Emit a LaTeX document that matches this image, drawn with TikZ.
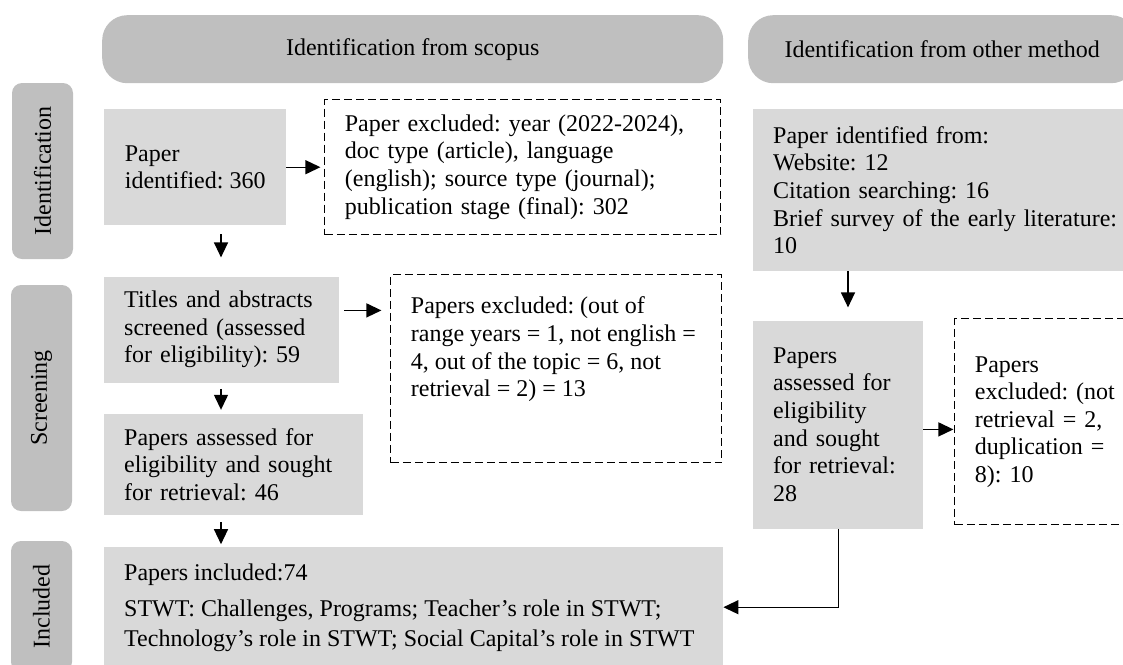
\documentclass[tikz,border=0pt]{standalone}
\usepackage{fontspec}
\setmainfont{Liberation Serif}
\usetikzlibrary{positioning, arrows.meta}
\frenchspacing

\definecolor{headgrey}{HTML}{BFBFBF}
\definecolor{boxgrey}{HTML}{D9D9D9}

\begin{document}
\begin{tikzpicture}[x=1pt, y=-1pt, >={Triangle[length=15pt, width=14pt]},
    every node/.style={font=\fontsize{24}{27.6}\selectfont, inner ysep=0pt},
    header/.style={fill=headgrey, rounded corners=25pt, minimum height=68pt, anchor=north west},
    phase/.style={fill=headgrey, rounded corners=10pt, rotate=90, minimum height=61pt},
    stagebox/.style={fill=boxgrey, anchor=north west, align=left, inner xsep=20pt},
    exclbox/.style={draw, line width=1pt, dash pattern=on 8pt off 4pt, anchor=north west, align=left, inner xsep=20pt},
    flowline/.style={->, line width=1.3pt}]
    \useasboundingbox (0,0) rectangle (1123,664);
    \clip (0,0) rectangle (1123,664);

    % column headers
    \node[header, minimum width=621pt] (hdrScopus) at (102,15) {Identification from scopus};
    \node[header, minimum width=388pt] (hdrOther) at (748,15) {Identification from other method};

    % phase labels
    \node[phase, minimum width=176pt] (phIdent) at (42.5,171) {Identification};
    \node[phase, minimum width=226pt] (phScreen) at (41.5,398) {Screening};
    \node[phase, minimum width=131pt] (phIncl) at (41.5,606.5) {Included};

    % scopus column
    \node[stagebox, minimum width=182pt, minimum height=116pt] (idScopus) at (104,109) {Paper\\identified: 360};
    \node[exclbox, text width=356pt, minimum height=135pt, right=38pt of idScopus.north east, anchor=north west, yshift=10pt] (exIdent)
        {Paper excluded: year (2022-2024),\\doc type (article), language\\(english); source type (journal);\\publication stage (final): 302};
    \node[stagebox, text width=195pt, minimum height=106pt, below=51pt of idScopus.south west, anchor=north west] (scrScopus)
        {Titles and abstracts\\screened (assessed\\for eligibility): 59};
    \node[exclbox, inner ysep=22pt, right=51pt of scrScopus.north east, anchor=north west, yshift=2pt] (exScreen)
        {\parbox[c][144pt][t]{291pt}{\raggedright Papers excluded: (out of\\range years = 1, not english =\\4, out of the topic = 6, not\\retrieval = 2) = 13}};
    \node[stagebox, text width=219pt, minimum height=101pt, below=31pt of scrScopus.south west, anchor=north west] (asScopus)
        {Papers assessed for\\eligibility and sought\\for retrieval: 46};
    \node[stagebox, inner ysep=16.6pt, below=32pt of asScopus.south west, anchor=north west] (incAll)
        {\parbox[c][100pt][t]{579pt}{\raggedright Papers included:74\\[8.4pt]STWT: Challenges, Programs; Teacher's role in STWT;\\[2.4pt]Technology's role in STWT; Social Capital's role in STWT}};

    % other methods column
    \node[stagebox, text width=360pt, minimum height=162pt] (othSearch) at (753,109)
        {Paper identified from:\\Website: 12\\Citation searching: 16\\Brief survey of the early literature:\\10};
    \node[stagebox, text width=130pt, minimum height=208pt, below=49pt of othSearch.south west, anchor=north west] (asOther)
        {Papers\\assessed for\\eligibility\\and sought\\for retrieval:\\28};
    \node[exclbox, text width=200pt, minimum height=206pt, right=31pt of asOther.north east, anchor=north west, yshift=2pt] (exOther)
        {Papers\\excluded: (not\\retrieval = 2,\\duplication =\\8): 10};

    % arrows
    \draw[flowline, shorten >=4pt] (idScopus.east) -- (idScopus.east -| exIdent.west);
    \draw[flowline, shorten <=9pt, shorten >=19pt] ([xshift=117pt]idScopus.south west) -- ([xshift=117pt]idScopus.south west |- scrScopus.north);
    \draw[flowline, shorten <=5pt, shorten >=9pt] ([yshift=-34pt]scrScopus.north east) -- ([yshift=-34pt]scrScopus.north east -| exScreen.west);
    \draw[flowline, shorten <=6pt, shorten >=4pt] ([xshift=117pt]scrScopus.south west) -- ([xshift=117pt]scrScopus.south west |- asScopus.north);
    \draw[flowline, shorten <=7pt, shorten >=3pt] ([xshift=117pt]asScopus.south west) -- ([xshift=117pt]asScopus.south west |- incAll.north);
    \draw[flowline, shorten >=13pt] ([xshift=95pt]othSearch.south west) -- ([xshift=95pt]othSearch.south west |- asOther.north);
    \draw[flowline, shorten >=1pt] ([yshift=-109pt]asOther.north east) -- ([yshift=-109pt]asOther.north east -| exOther.west);
    \draw[flowline] (asOther.south) |- ([yshift=-60pt]incAll.north east);
\end{tikzpicture}
\end{document}
